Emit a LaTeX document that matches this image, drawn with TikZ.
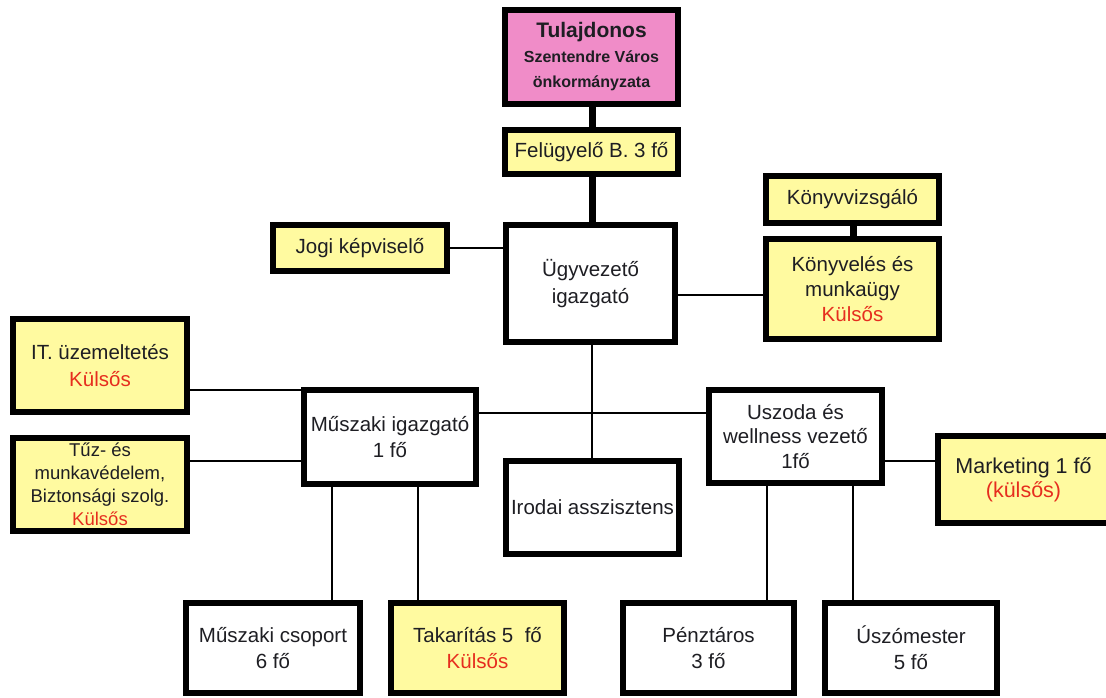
\documentclass[tikz,border=0pt]{standalone}
\usepackage{fontspec}
\setmainfont{Liberation Sans}
\definecolor{yel}{RGB}{255,250,160}
\definecolor{pnk}{RGB}{240,140,200}
\definecolor{txt}{RGB}{30,30,35}
\definecolor{redk}{RGB}{230,45,30}
\newcommand{\kul}[1]{\textcolor{redk}{#1}}
\begin{document}
\begin{tikzpicture}[x=1pt,y=-1pt,
  box/.style={draw=black, line width=6pt, fill=white, align=center, inner sep=0pt, text=txt, font=\fontsize{20.5}{25}\selectfont},
  ybox/.style={box, fill=yel},
  thinc/.style={line width=1.3pt, draw=black},
  thickc/.style={line width=7pt, draw=black}]
\useasboundingbox (0,0) rectangle (1106,697);
\fill[white] (0,0) rectangle (1106,697);

% top chain
\node[box, fill=pnk, minimum width=173pt, minimum height=94pt] (tul) at (591.5,57)
  {\fontsize{21}{23}\selectfont\bfseries Tulajdonos\\
   \fontsize{16}{23}\selectfont\bfseries Szentendre Város\\
   \fontsize{16}{23}\selectfont\bfseries önkormányzata};
\node[ybox, minimum width=173pt, minimum height=44pt] (fel) at (591.5,152) {Felügyelő B. 3 fő};
\node[box, minimum width=169pt, minimum height=117pt, font=\fontsize{20.5}{27}\selectfont] (ugy) at (590.5,283.5) {Ügyvezető\\igazgató};
\node[ybox, minimum width=174pt, minimum height=46pt] (jogi) at (360,248) {Jogi képviselő};
\node[ybox, minimum width=173pt, minimum height=47pt] (kvv) at (852.5,199.5) {Könyvvizsgáló};
\node[ybox, minimum width=173pt, minimum height=100pt] (kvl) at (852.5,289) {Könyvelés és\\munkaügy\\\kul{Külsős}};

% middle row
\node[ybox, minimum width=174pt, minimum height=93pt, font=\fontsize{20.5}{27}\selectfont] (it) at (100,365.5) {IT. üzemeltetés\\\kul{Külsős}};
\node[ybox, minimum width=174pt, minimum height=93pt, font=\fontsize{18.5}{23}\selectfont] (tuz) at (100,484.5)
  {Tűz- és\\munkavédelem,\\Biztonsági szolg.\\\kul{Külsős}};
\node[box, minimum width=172pt, minimum height=94pt, font=\fontsize{20.5}{26}\selectfont] (musz) at (390,437) {Műszaki igazgató\\1 fő};
\node[box, minimum width=173pt, minimum height=93pt] (iro) at (592.5,507.5) {Irodai asszisztens};
\node[box, minimum width=173pt, minimum height=93pt, font=\fontsize{20.5}{24.5}\selectfont] (usz) at (795.5,436.5) {Uszoda és\\wellness vezető\\1fő};
\node[ybox, minimum width=171pt, minimum height=87pt, font=\fontsize{21.5}{24}\selectfont] (mark) at (1023.5,479.5)
  {Marketing 1 fő\\\kul{(külsős)}};

% bottom row
\node[box, minimum width=174pt, minimum height=90pt, font=\fontsize{20.5}{26}\selectfont] (mcs) at (273,648) {Műszaki csoport\\6 fő};
\node[ybox, minimum width=173pt, minimum height=90pt, font=\fontsize{20.5}{26}\selectfont] (tak) at (477.5,648) {Takarítás 5\ \ fő\\\kul{Külsős}};
\node[box, minimum width=171pt, minimum height=90pt, font=\fontsize{20.5}{26}\selectfont] (pen) at (708.5,648) {Pénztáros\\3 fő};
\node[box, minimum width=172pt, minimum height=90pt, font=\fontsize{20.5}{26}\selectfont] (usm) at (911,648) {Úszómester\\5 fő};

% helper coordinates
\coordinate (yit) at (0,390);
\coordinate (ytuz) at (0,461);
\coordinate (ymid) at (0,413);
\coordinate (ykv) at (0,295);
\coordinate (xa) at (332,0);
\coordinate (xb) at (418,0);
\coordinate (xc) at (767,0);
\coordinate (xd) at (853,0);
\coordinate (xv) at (592,0);

% thick connectors
\draw[thickc] (tul.south -| xv) -- (fel.north -| xv);
\draw[thickc] (fel.south -| xv) -- (ugy.north -| xv);
\draw[thickc] (kvv.south -| xd) -- (kvl.north -| xd);

% thin connectors
\draw[thinc] (jogi.east) -- (jogi.east -| ugy.west);
\draw[thinc] (ugy.east |- ykv) -- (kvl.west |- ykv);
\draw[thinc] (ugy.south -| xv) -- (iro.north -| xv);
\draw[thinc] (musz.east |- ymid) -- (usz.west |- ymid);
\draw[thinc] (it.east |- yit) -- (musz.west |- yit);
\draw[thinc] (tuz.east |- ytuz) -- (musz.west |- ytuz);
\draw[thinc] (usz.east |- ytuz) -- (mark.west |- ytuz);
\draw[thinc] (musz.south -| xa) -- (mcs.north -| xa);
\draw[thinc] (musz.south -| xb) -- (tak.north -| xb);
\draw[thinc] (usz.south -| xc) -- (pen.north -| xc);
\draw[thinc] (usz.south -| xd) -- (usm.north -| xd);
\end{tikzpicture}
\end{document}
